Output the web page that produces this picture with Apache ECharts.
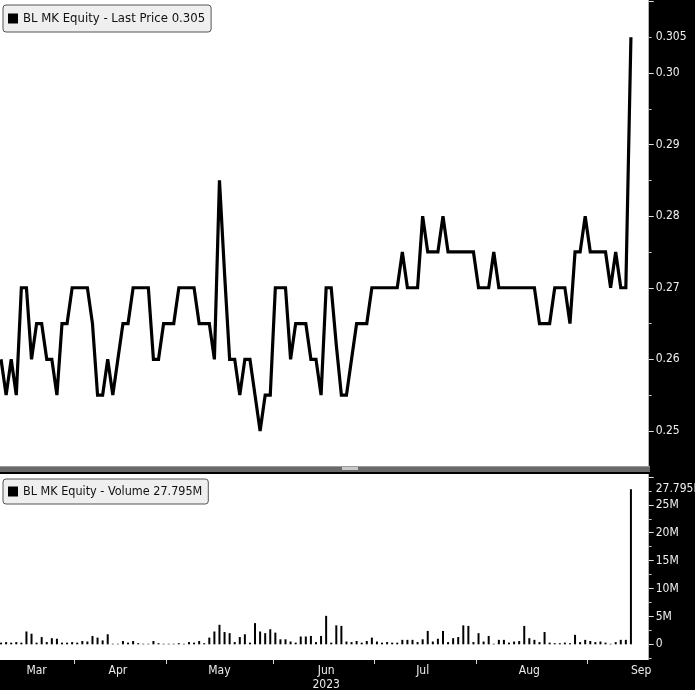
<!DOCTYPE html>
<html>
<head>
<meta charset="utf-8">
<script src="https://cdn.jsdelivr.net/npm/echarts@6/dist/echarts.min.js"></script>
<style>html,body{margin:0;padding:0;background:#000;}#c{width:695px;height:690px;}</style>
</head>
<body>
<div id="c"></div>
<script>
// Trading days (last three entries are empty room before the axis)
const dates = [
 '2023-03-13','2023-03-14','2023-03-15','2023-03-16','2023-03-17','2023-03-20','2023-03-21','2023-03-22','2023-03-23','2023-03-24',
 '2023-03-27','2023-03-28','2023-03-29','2023-03-30','2023-03-31',
 '2023-04-03','2023-04-04','2023-04-05','2023-04-06','2023-04-07','2023-04-10','2023-04-11','2023-04-12','2023-04-13','2023-04-14',
 '2023-04-17','2023-04-18','2023-04-19','2023-04-20','2023-04-25','2023-04-26','2023-04-27','2023-04-28',
 '2023-05-02','2023-05-03','2023-05-05','2023-05-08','2023-05-09','2023-05-10','2023-05-11','2023-05-12','2023-05-15','2023-05-16',
 '2023-05-17','2023-05-18','2023-05-19','2023-05-22','2023-05-23','2023-05-24','2023-05-25','2023-05-26','2023-05-29','2023-05-30','2023-05-31',
 '2023-06-01','2023-06-02','2023-06-06','2023-06-07','2023-06-08','2023-06-09','2023-06-12','2023-06-13','2023-06-14','2023-06-15',
 '2023-06-16','2023-06-19','2023-06-20','2023-06-21','2023-06-22','2023-06-23','2023-06-26','2023-06-27','2023-06-28','2023-06-30',
 '2023-07-03','2023-07-04','2023-07-05','2023-07-06','2023-07-07','2023-07-10','2023-07-11','2023-07-12','2023-07-13','2023-07-14',
 '2023-07-17','2023-07-18','2023-07-20','2023-07-21','2023-07-24','2023-07-25','2023-07-26','2023-07-27','2023-07-28','2023-07-31',
 '2023-08-01','2023-08-02','2023-08-03','2023-08-04','2023-08-07','2023-08-08','2023-08-09','2023-08-10','2023-08-11','2023-08-14',
 '2023-08-15','2023-08-16','2023-08-17','2023-08-18','2023-08-21','2023-08-22','2023-08-23','2023-08-24','2023-08-25','2023-08-28',
 '2023-08-29','2023-08-30',
 '2023-09-01','2023-09-04','2023-09-05','2023-09-06','2023-09-07','2023-09-08','2023-09-11','2023-09-12','2023-09-13',
 '2023-09-14','2023-09-15','2023-09-18'
];

const lastPrice = [
 0.26,0.255,0.26,0.255,0.27,0.27,0.26,0.265,0.265,0.26,
 0.26,0.255,0.265,0.265,0.27,0.27,0.27,0.27,0.265,0.255,
 0.255,0.26,0.255,0.26,0.265,0.265,0.27,0.27,0.27,0.27,
 0.26,0.26,0.265,0.265,0.265,0.27,0.27,0.27,0.27,0.265,
 0.265,0.265,0.26,0.285,0.272,0.26,0.26,0.255,0.26,0.26,
 0.255,0.25,0.255,0.255,0.27,0.27,0.27,0.26,0.265,0.265,
 0.265,0.26,0.26,0.255,0.27,0.27,0.262,0.255,0.255,0.26,
 0.265,0.265,0.265,0.27,0.27,0.27,0.27,0.27,0.27,0.275,
 0.27,0.27,0.27,0.28,0.275,0.275,0.275,0.28,0.275,0.275,
 0.275,0.275,0.275,0.275,0.27,0.27,0.27,0.275,0.27,0.27,
 0.27,0.27,0.27,0.27,0.27,0.27,0.265,0.265,0.265,0.27,
 0.27,0.27,0.265,0.275,0.275,0.28,0.275,0.275,0.275,0.275,
 0.27,0.275,0.27,0.27,0.305
];

// Volume in millions of shares
const volumeM = [
 0.3,0.4,0.3,0.4,0.3,2.3,1.9,0.3,1.3,0.4,
 1.1,1.0,0.3,0.3,0.4,0.3,0.6,0.5,1.5,1.2,
 0.7,1.8,0.1,0.1,0.6,0.3,0.6,0.2,0.1,0.1,
 0.6,0.2,0.1,0.1,0.1,0.2,0.1,0.4,0.3,0.6,
 0.2,1.2,2.3,3.5,2.2,2.0,0.4,1.3,1.8,0.3,
 3.8,2.3,2.0,2.7,2.1,0.9,0.9,0.5,0.3,1.4,
 1.4,1.5,0.4,1.5,5.1,0.3,3.4,3.3,0.5,0.4,
 0.6,0.3,0.6,1.2,0.5,0.3,0.4,0.3,0.3,0.8,
 0.8,0.8,0.4,0.9,2.4,0.5,1.0,2.4,0.4,1.1,
 1.3,3.4,3.3,0.4,2.0,0.5,1.5,0.1,0.8,0.8,
 0.3,0.5,0.6,3.3,1.1,0.8,0.4,2.2,0.3,0.2,
 0.2,0.3,0.2,1.7,0.4,0.8,0.6,0.4,0.5,0.3,
 0.1,0.4,0.8,0.8,27.795
];

const monthLabelDates = ['2023-03-22','2023-04-13','2023-05-17','2023-06-16','2023-07-14','2023-08-15','2023-09-15'];
const monthLabelTexts = ['Mar','Apr','May','Jun\n2023','Jul','Aug','Sep'];

const priceTickLabels = [0.25,0.26,0.27,0.28,0.29,0.30,0.305];
const priceMajorTicks = [0.25,0.26,0.27,0.28,0.29,0.30,0.31];
const priceMinorTicks = [0.255,0.265,0.275,0.285,0.295,0.305];
const volTickLabels = [0,5,10,15,20,25,27.795];
const volMajorTicks = [0,5,10,15,20,25,30];
const volMinorTicks = [-2.5,2.5,7.5,12.5,17.5,22.5,27.5];

const PRICE_NAME = 'BL MK Equity - Last Price';
const VOL_NAME = 'BL MK Equity - Volume';
const lastP = lastPrice[lastPrice.length - 1];
const lastV = volumeM[volumeM.length - 1];

const FONT = "'DejaVu Sans Condensed', 'DejaVu Sans', sans-serif";

// month boundaries (band edges) and label positions, in category units
const monthBoundaries = [];
for (let i = 1; i < dates.length; i++) {
  if (dates[i].slice(5, 7) !== dates[i - 1].slice(5, 7)) monthBoundaries.push(i - 0.5);
}
const monthLabelPos = monthLabelDates.map(d => dates.indexOf(d));
const near = (a, b) => Math.abs(a - b) < 1e-9;

const chart = echarts.init(document.getElementById('c'), null, {renderer: 'canvas'});

const legendCommon = {
  orient: 'horizontal',
  selectedMode: false,
  icon: 'rect',
  itemWidth: 10,
  itemHeight: 10,
  itemGap: 4,
  backgroundColor: '#efefef',
  borderColor: '#555',
  borderWidth: 1,
  borderRadius: 3
};

const hiddenLine = {show: false, onZero: false};

const option = {
  backgroundColor: '#000',
  animation: false,
  textStyle: {fontFamily: FONT},
  grid: [
    {left: -1.5, top: 0, width: 650.2, height: 466, show: true, backgroundColor: '#fff', borderWidth: 0, containLabel: false, outerBoundsMode: 'none'},
    {left: -1.5, top: 474, width: 650.2, height: 186, show: true, backgroundColor: '#fff', borderWidth: 0, containLabel: false, outerBoundsMode: 'none'}
  ],
  legend: [
    Object.assign({}, legendCommon, {
      left: 3, top: 5, data: [PRICE_NAME],
      padding: [7, 6, 7, 5],
      textStyle: {fontFamily: FONT, fontSize: 13, color: '#111'},
      formatter: n => n + ' ' + lastP.toFixed(3)
    }),
    Object.assign({}, legendCommon, {
      left: 3, top: 479, data: [VOL_NAME],
      padding: [6, 6, 6, 5],
      textStyle: {fontFamily: FONT, fontSize: 12.5, color: '#111'},
      formatter: n => n + ' ' + lastV.toFixed(3) + 'M'
    })
  ],
  xAxis: [
    {type: 'category', gridIndex: 0, data: dates, boundaryGap: true, show: false, axisLine: hiddenLine},
    {type: 'category', gridIndex: 1, data: dates, boundaryGap: true, show: false, axisLine: hiddenLine},
    {
      type: 'value', gridIndex: 1, min: -0.5, max: dates.length - 0.5, position: 'bottom',
      axisLine: hiddenLine, splitLine: {show: false},
      axisTick: {show: true, customValues: monthBoundaries, length: 4, lineStyle: {color: '#d8d8d8', width: 1}},
      axisLabel: {
        customValues: monthLabelPos,
        formatter: v => {
          const k = monthLabelDates.indexOf(dates[Math.round(v)]);
          return k >= 0 ? monthLabelTexts[k] : '';
        },
        color: '#ececec', fontSize: 12, fontFamily: FONT, margin: 4, lineHeight: 14
      }
    }
  ],
  yAxis: [
    {
      type: 'value', gridIndex: 0, position: 'right', offset: 0, min: 0.2451, max: 0.3102,
      axisLine: hiddenLine, splitLine: {show: false},
      axisTick: {show: true, customValues: priceMajorTicks, length: 5, lineStyle: {color: '#e0e0e0'}},
      axisLabel: {
        customValues: priceTickLabels,
        formatter: v => near(v, 0.305) ? '0.305' : v.toFixed(2),
        color: '#f0f0f0', fontSize: 12, fontFamily: FONT, margin: 7
      }
    },
    {
      type: 'value', gridIndex: 0, position: 'right', offset: 0, min: 0.2451, max: 0.3102,
      axisLine: hiddenLine, splitLine: {show: false},
      axisTick: {show: true, customValues: priceMinorTicks, length: 3, lineStyle: {color: '#bdbdbd'}},
      axisLabel: {show: false}
    },
    {
      type: 'value', gridIndex: 1, position: 'right', offset: 0, min: -2.81, max: 30.52,
      axisLine: hiddenLine, splitLine: {show: false},
      axisTick: {show: true, customValues: volMajorTicks, length: 5, lineStyle: {color: '#e0e0e0'}},
      axisLabel: {
        customValues: volTickLabels,
        formatter: v => near(v, 0) ? '0' : (near(v, 27.795) ? '27.795M' : v + 'M'),
        color: '#f0f0f0', fontSize: 12, fontFamily: FONT, margin: 7
      }
    },
    {
      type: 'value', gridIndex: 1, position: 'right', offset: 0, min: -2.81, max: 30.52,
      axisLine: hiddenLine, splitLine: {show: false},
      axisTick: {show: true, customValues: volMinorTicks, length: 3, lineStyle: {color: '#bdbdbd'}},
      axisLabel: {show: false}
    }
  ],
  series: [
    {
      name: PRICE_NAME, type: 'line', xAxisIndex: 0, yAxisIndex: 0,
      data: lastPrice, showSymbol: false, symbol: 'none', smooth: false,
      itemStyle: {color: '#000'},
      lineStyle: {color: '#000', width: 3.2, join: 'miter', miterLimit: 6},
      z: 3
    },
    {
      name: VOL_NAME, type: 'bar', xAxisIndex: 1, yAxisIndex: 2,
      data: volumeM, barWidth: 2, itemStyle: {color: '#000'}, z: 3
    }
  ],
  graphic: [
    {type: 'rect', z: 100, shape: {x: 0, y: 466, width: 650, height: 6}, style: {fill: '#6a6a6a'}},
    {type: 'rect', z: 101, shape: {x: 0, y: 466, width: 650, height: 1}, style: {fill: '#9a9a9a'}},
    {type: 'rect', z: 101, shape: {x: 342, y: 467, width: 16, height: 3}, style: {fill: '#c8c8c8'}}
  ]
};

chart.setOption(option);
</script>
</body>
</html>
